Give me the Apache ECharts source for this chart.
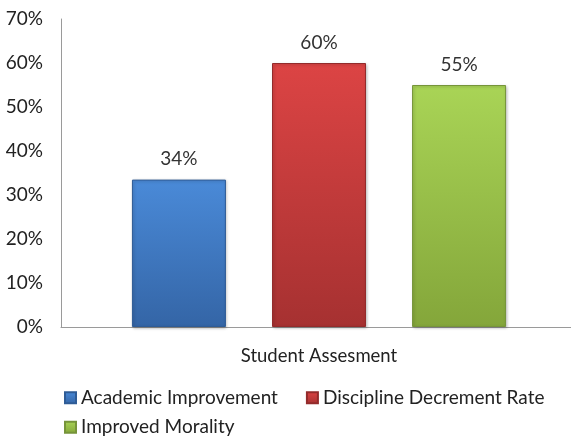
<!DOCTYPE html>
<html>
<head>
<meta charset="utf-8">
<script src="https://cdn.jsdelivr.net/npm/echarts@6/dist/echarts.min.js"></script>
<style>html,body{margin:0;padding:0;background:#fff;overflow:hidden}#c{width:577px;height:443px}</style>
</head>
<body>
<div id="c"></div>
<script>
var categories = ['Student Assesment'];
var seriesNames = ['Academic Improvement', 'Discipline Decrement Rate', 'Improved Morality'];
var academic = [33.5];
var discipline = [60];
var morality = [55];
var yTicks = [0, 10, 20, 30, 40, 50, 60, 70];

var FONT = 'Lato';
function grad(top, bottom) {
  return new echarts.graphic.LinearGradient(0, 0, 0, 1, [
    {offset: 0, color: top}, {offset: 1, color: bottom}
  ]);
}
var styles = [
  {top: '#4a8ad8', bottom: '#3465a6', border: '#2f5c96'},
  {top: '#dc4444', bottom: '#a63131', border: '#932b2b'},
  {top: '#a9d456', bottom: '#84a63a', border: '#76943a'}
];
var values = [academic, discipline, morality];
var series = seriesNames.map(function (n, i) {
  return {
    name: n,
    type: 'bar',
    data: values[i],
    barWidth: 94,
    barGap: '49%',
    itemStyle: {
      color: grad(styles[i].top, styles[i].bottom),
      borderColor: styles[i].border,
      borderWidth: 1,
      shadowColor: 'rgba(0,0,0,0.25)',
      shadowBlur: 3,
      shadowOffsetX: 1,
      shadowOffsetY: 1
    },
    label: {
      show: true,
      position: 'top',
      distance: 11,
      fontFamily: FONT,
      fontSize: 19,
      color: '#333',
      formatter: function (p) { return Math.round(p.value) + '%'; }
    }
  };
});

var chart = echarts.init(document.getElementById('c'));
chart.setOption({
  animation: false,
  grid: {left: 61, right: 0, top: 19, bottom: 116, containLabel: false},
  legend: {
    left: 64,
    top: 385,
    width: 520,
    padding: 0,
    itemWidth: 11,
    itemHeight: 11,
    itemGap: 4,
    icon: 'rect',
    textStyle: {fontFamily: FONT, fontSize: 19, lineHeight: 25.5, color: '#222', padding: [0, 24, 0, 0]},
    data: seriesNames
  },
  xAxis: {
    type: 'category',
    data: categories,
    axisLine: {lineStyle: {color: '#9a9a9a', width: 1}},
    axisTick: {show: false},
    axisLabel: {fontFamily: FONT, fontSize: 18.5, color: '#222', margin: 20}
  },
  yAxis: {
    type: 'value',
    min: yTicks[0],
    max: yTicks[yTicks.length - 1],
    interval: yTicks[1] - yTicks[0],
    splitLine: {show: false},
    axisLine: {show: true, lineStyle: {color: '#9a9a9a', width: 1}},
    axisTick: {show: false},
    axisLabel: {fontFamily: FONT, fontSize: 19, color: '#222', margin: 18, formatter: '{value}%'}
  },
  series: series
});
</script>
</body>
</html>
